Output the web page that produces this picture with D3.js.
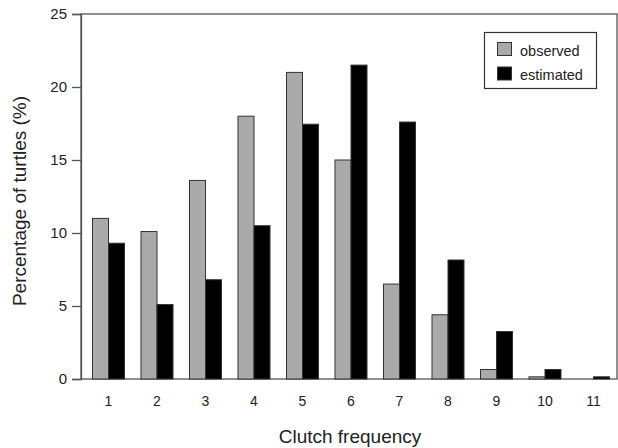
<!DOCTYPE html>
<html><head><meta charset="utf-8">
<script src="https://cdn.jsdelivr.net/npm/d3@7"></script>
<style>body{margin:0;background:#fff}svg{display:block}</style>
</head><body>
<svg id="c" width="618" height="448"></svg>
<script>
const categories = ["1","2","3","4","5","6","7","8","9","10","11"];
const observed  = [11.0, 10.1, 13.6, 18.0, 21.0, 15.0, 6.5, 4.4, 0.65, 0.15, 0];
const estimated = [9.3, 5.1, 6.8, 10.5, 17.45, 21.5, 17.6, 8.15, 3.25, 0.65, 0.15];
const seriesNames = ["observed","estimated"];
const yTicks = [0,5,10,15,20,25];
const colors = {observed:"#aaaaaa", estimated:"#000000"};

(function(){
const svg = d3.select("#c");
const font = "'Liberation Sans', Arial, sans-serif";
const mL = 81, mR = 617, mT = 14, mB = 379;

const x = d3.scaleBand().domain(categories).range([92.5, 609.5]).paddingInner(0.34).paddingOuter(0);
const xs = d3.scaleBand().domain(seriesNames).range([0, x.bandwidth()]);
const y = d3.scaleLinear().domain([0,25]).range([mB, mT]);

// frame
svg.append("rect").attr("x", mL).attr("y", mT).attr("width", mR-mL).attr("height", mB-mT)
  .attr("fill","none").attr("stroke","#555").attr("stroke-width",1.3);

// bars
const data = categories.map((c,i)=>({c, observed:observed[i], estimated:estimated[i]}));
const g = svg.append("g");
data.forEach(d=>{
  seriesNames.forEach(s=>{
    g.append("rect")
      .attr("x", x(d.c)+xs(s)).attr("width", xs.bandwidth())
      .attr("y", y(d[s])).attr("height", y(0)-y(d[s]))
      .attr("fill", colors[s]).attr("stroke","#333").attr("stroke-width",1);
  });
});

// y axis
const ya = svg.append("g").attr("transform",`translate(${mL},0)`)
  .call(d3.axisLeft(y).tickValues(yTicks).tickSize(9).tickPadding(5));
ya.select(".domain").attr("stroke","#555").attr("stroke-width",1.3);
ya.selectAll(".tick line").attr("stroke","#555").attr("stroke-width",1.3);
ya.selectAll("text").attr("font-family",font).attr("font-size",15).attr("fill","#222");

// x axis labels
const xa = svg.append("g").attr("transform",`translate(0,${mB})`)
  .call(d3.axisBottom(x).tickSize(0).tickPadding(17));
xa.select(".domain").remove();
xa.selectAll("text").attr("font-family",font).attr("font-size",14).attr("fill","#222");

// titles
svg.append("text").attr("x", 350).attr("y", 443).attr("text-anchor","middle")
  .attr("font-family",font).attr("font-size",19).attr("fill","#222").text("Clutch frequency");
svg.append("text").attr("transform","translate(26,201) rotate(-90)").attr("text-anchor","middle")
  .attr("font-family",font).attr("font-size",19).attr("fill","#222").text("Percentage of turtles (%)");

// legend
const lg = svg.append("g");
lg.append("rect").attr("x",484.5).attr("y",32.5).attr("width",112).attr("height",56)
  .attr("fill","#fff").attr("stroke","#333").attr("stroke-width",1.2);
seriesNames.forEach((s,i)=>{
  lg.append("rect").attr("x",497.5).attr("y",42.5+i*24.5).attr("width",14).attr("height",13)
    .attr("fill",colors[s]).attr("stroke","#333").attr("stroke-width",1);
  lg.append("text").attr("x",520).attr("y",55.5+i*24.5).attr("font-family",font).attr("font-size",14.5)
    .attr("fill","#222").text(s);
});
})();
</script>
</body></html>
